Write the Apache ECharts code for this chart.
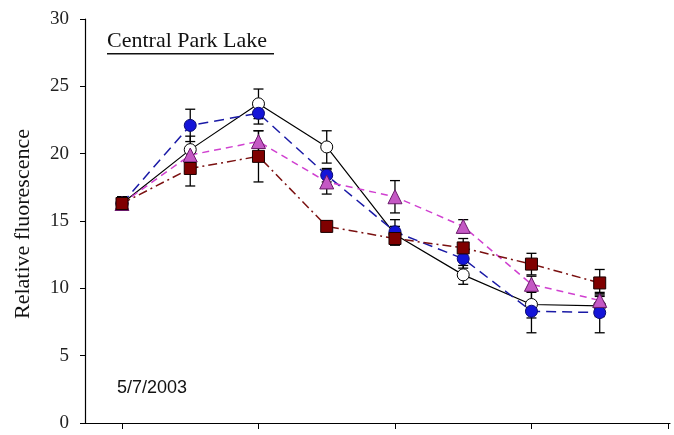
<!DOCTYPE html>
<html><head><meta charset="utf-8">
<script src="https://cdn.jsdelivr.net/npm/echarts@6/dist/echarts.min.js"></script>
<style>html,body{margin:0;padding:0;background:#fff}#c{width:674px;height:435px}</style>
</head><body><div id="c"></div>
<script>
// Sampling points (x positions in tick units; ticks at 0,2,4,6,8)
const xPoints = [0, 1, 2, 3, 4, 5, 6, 7];
const xTicks = [0, 2, 4, 6, 8];
const yTicks = [0, 5, 10, 15, 20, 25, 30];

const openCircle = [16.3, 20.3, 23.7, 20.5, 14.0, 11.0, 8.8, 8.7];
const openCircleErr = [0.5, 1.0, 1.1, 1.2, 0.6, 0.7, 1.0, 0.8];
const blueCircle = [16.3, 22.1, 23.0, 18.4, 14.2, 12.2, 8.3, 8.2];
const blueCircleErr = [0.5, 1.2, 0.8, 0.5, 0.9, 0.7, 1.6, 1.5];
const triangle = [16.3, 19.9, 20.9, 17.9, 16.8, 14.6, 10.3, 9.1];
const triangleErr = [0.5, 0.6, 0.8, 0.9, 1.2, 0.5, 0.6, 0.5];
const redSquare = [16.3, 18.9, 19.8, 14.6, 13.7, 13.0, 11.8, 10.4];
const redSquareErr = [0.5, 1.3, 1.9, 0.4, 0.5, 0.7, 0.8, 1.0];

const chartTitle = 'Central Park Lake';
const dateLabel = '5/7/2003';
const yName = 'Relative fluorescence';

const chart = echarts.init(document.getElementById('c'));

function pairs(vals) { return xPoints.map((x, i) => [x, vals[i]]); }
function errData(vals, errs) { return xPoints.map((x, i) => [x, vals[i] - errs[i], vals[i] + errs[i]]); }

function errSeries(vals, errs) {
  return {
    type: 'custom', z: 1, silent: true,
    renderItem: function (params, api) {
      const x = api.value(0), lo = api.value(1), hi = api.value(2);
      const p1 = api.coord([x, lo]), p2 = api.coord([x, hi]);
      const w = 5;
      const st = { stroke: '#000', lineWidth: 1.3 };
      return { type: 'group', children: [
        { type: 'line', shape: { x1: p1[0], y1: p1[1], x2: p2[0], y2: p2[1] }, style: st },
        { type: 'line', shape: { x1: p1[0] - w, y1: p1[1], x2: p1[0] + w, y2: p1[1] }, style: st },
        { type: 'line', shape: { x1: p2[0] - w, y1: p2[1], x2: p2[0] + w, y2: p2[1] }, style: st }
      ]};
    },
    encode: { x: 0, y: [1, 2] },
    data: errData(vals, errs)
  };
}

function lineSeries(vals, opt) {
  return Object.assign({
    type: 'line', z: 3, data: pairs(vals), showSymbol: true, symbolKeepAspect: true,
    animation: false
  }, opt);
}

chart.setOption({
  animation: false,
  grid: { left: 85, right: 4, top: 19, bottom: 12 },
  xAxis: {
    type: 'value', min: -0.542, max: 8.03,
    axisLine: { show: true, onZero: false, lineStyle: { color: '#000', width: 1.2 } },
    axisTick: { show: true, inside: false, length: 6, customValues: xTicks, lineStyle: { color: '#000' } },
    axisLabel: { show: false },
    splitLine: { show: false }
  },
  yAxis: {
    type: 'value', min: 0, max: 30, interval: 5,
    axisLine: { show: true, onZero: false, lineStyle: { color: '#000', width: 1.2 } },
    axisTick: { show: true, inside: false, length: 5, lineStyle: { color: '#000' } },
    axisLabel: { color: '#222', fontFamily: 'Liberation Serif', fontSize: 19, margin: 16 },
    splitLine: { show: false }
  },
  series: [
    errSeries(openCircle, openCircleErr),
    errSeries(blueCircle, blueCircleErr),
    errSeries(triangle, triangleErr),
    errSeries(redSquare, redSquareErr),
    lineSeries(openCircle, {
      symbol: 'circle', symbolSize: 12,
      lineStyle: { color: '#000', width: 1.2, type: 'solid' },
      itemStyle: { color: '#fff', borderColor: '#000', borderWidth: 1 }
    }),
    lineSeries(blueCircle, {
      symbol: 'circle', symbolSize: 12,
      lineStyle: { color: '#1a1aa6', width: 1.5, type: [10, 6] },
      itemStyle: { color: '#1414d8', borderColor: '#0a0a70', borderWidth: 1 }
    }),
    lineSeries(triangle, {
      symbol: 'triangle', symbolSize: 14,
      lineStyle: { color: '#d040d0', width: 1.5, type: [7, 5] },
      itemStyle: { color: '#c458c4', borderColor: '#6a1a6a', borderWidth: 1 }
    }),
    lineSeries(redSquare, {
      symbol: 'rect', symbolSize: 12,
      lineStyle: { color: '#7a1010', width: 1.5, type: [9, 4, 2, 4] },
      itemStyle: { color: '#800000', borderColor: '#1a0000', borderWidth: 1 }
    })
  ],
  graphic: [
    { type: 'text', left: 107, top: 30, style: { text: chartTitle, font: '22px "Liberation Serif"', fill: '#111' } },
    { type: 'rect', shape: { x: 107, y: 53, width: 167, height: 1.5 }, style: { fill: '#111' } },
    { type: 'text', left: 117, top: 379, style: { text: dateLabel, font: '18px "Liberation Sans"', fill: '#111' } },
    { type: 'text', x: 23, y: 224, rotation: Math.PI / 2, style: { text: yName, font: '22px "Liberation Serif"', fill: '#111', align: 'center', verticalAlign: 'middle' } }
  ]
});
</script></body></html>
